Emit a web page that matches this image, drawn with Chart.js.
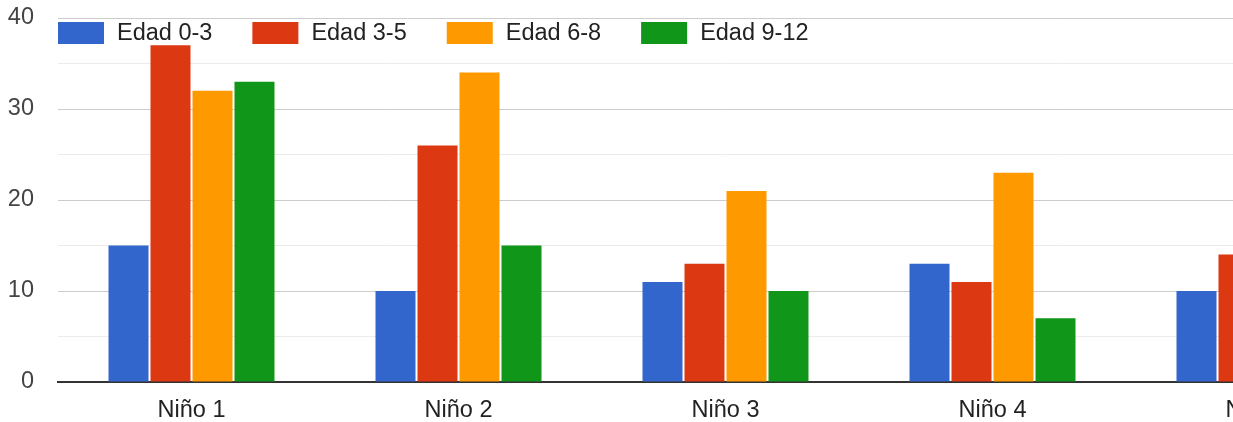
<!DOCTYPE html>
<html>
<head>
<meta charset="utf-8">
<script src="https://cdn.jsdelivr.net/npm/chart.js@4/dist/chart.umd.min.js"></script>
<style>
  html, body { margin: 0; padding: 0; background: #fff; overflow: hidden; }
  #wrap { width: 1400px; height: 422px; }
</style>
</head>
<body>
<div id="wrap"><canvas id="myChart" width="1400" height="422"></canvas></div>
<script>
// categories (the 5th one is cut off at the right edge of the picture)
const categories = ["Niño 1", "Niño 2", "Niño 3", "Niño 4", "Niño 5"];
const seriesNames = ["Edad 0-3", "Edad 3-5", "Edad 6-8", "Edad 9-12"];
const edad0_3 = [15, 10, 11, 13, 10];
const edad3_5 = [37, 26, 13, 11, 14];
const edad6_8 = [32, 34, 21, 23, 20];   // last value is off-screen, guessed
const edad9_12 = [33, 15, 10, 7, 8];    // last value is off-screen, guessed
const colors = ["#3366cc", "#dc3912", "#ff9900", "#109618"];
const yTicks = [0, 10, 20, 30, 40];

var FONT = "'Liberation Sans', Arial, sans-serif";

// legend drawn inside the plot, top-left, like google charts does it
var insideLegend = {
    id: 'insideLegend',
    afterDraw: function(chart) {
        var c = chart.ctx;
        var area = chart.chartArea;
        var x = area.left;
        var top = area.top + 4;
        c.save();
        c.font = "23.5px " + FONT;
        c.textBaseline = 'middle';
        c.textAlign = 'left';
        chart.data.datasets.forEach(function(ds) {
            c.fillStyle = ds.backgroundColor;
            c.fillRect(x, top, 46, 22);
            c.fillStyle = '#222';
            c.fillText(ds.label, x + 59, top + 12);
            x += 59 + c.measureText(ds.label).width + 40;
        });
        c.restore();
    }
};

function makeData() {
    var all = [edad0_3, edad3_5, edad6_8, edad9_12];
    var arrayData = [];
    for (var i = 0; i < all.length; i++) {
        arrayData.push({
            label: seriesNames[i],
            data: all[i],
            backgroundColor: colors[i],
            borderWidth: 0,
            categoryPercentage: 168 / 267,
            barPercentage: 40 / 42
        });
    }
    return { labels: categories, datasets: arrayData };
}

var ctx = document.getElementById("myChart");
var myChart = new Chart(ctx, {
    type: 'bar',
    data: makeData(),
    plugins: [insideLegend],
    options: {
        responsive: false,
        animation: false,
        devicePixelRatio: 1,
        layout: { padding: { top: 0, right: 7, left: 0, bottom: 0 } },
        plugins: {
            tooltip: { enabled: false },
            legend: { display: false }
        },
        scales: {
            x: {
                z: 1,
                grid: { display: false, drawTicks: false },
                border: { display: true, color: '#333', width: 2 },
                ticks: {
                    color: '#222',
                    padding: 14,
                    maxRotation: 0,
                    autoSkip: false,
                    font: { family: FONT, size: 23.5 }
                },
                afterFit: function(s) { s.height = 40; }
            },
            y: {
                min: 0,
                max: 40,
                afterBuildTicks: function(s) {
                    var t = [];
                    for (var v = 0; v <= 40; v += 5) t.push({ value: v });
                    s.ticks = t;
                },
                grid: {
                    drawTicks: false,
                    color: function(c) {
                        var v = c.tick.value;
                        if (v === 0) return 'rgba(0,0,0,0)';
                        return yTicks.indexOf(v) >= 0 ? '#cccccc' : '#ebebeb';
                    },
                    lineWidth: 1
                },
                border: { display: false },
                ticks: {
                    color: '#444',
                    padding: 24,
                    font: { family: FONT, size: 23.5 },
                    callback: function(v) { return yTicks.indexOf(v) >= 0 ? String(v) : ''; }
                },
                afterFit: function(s) {
                    s.width = 58;
                    s.paddingTop = 18;   // plot top sits at y=18
                    s.paddingBottom = 0;
                }
            }
        }
    }
});
</script>
</body>
</html>
